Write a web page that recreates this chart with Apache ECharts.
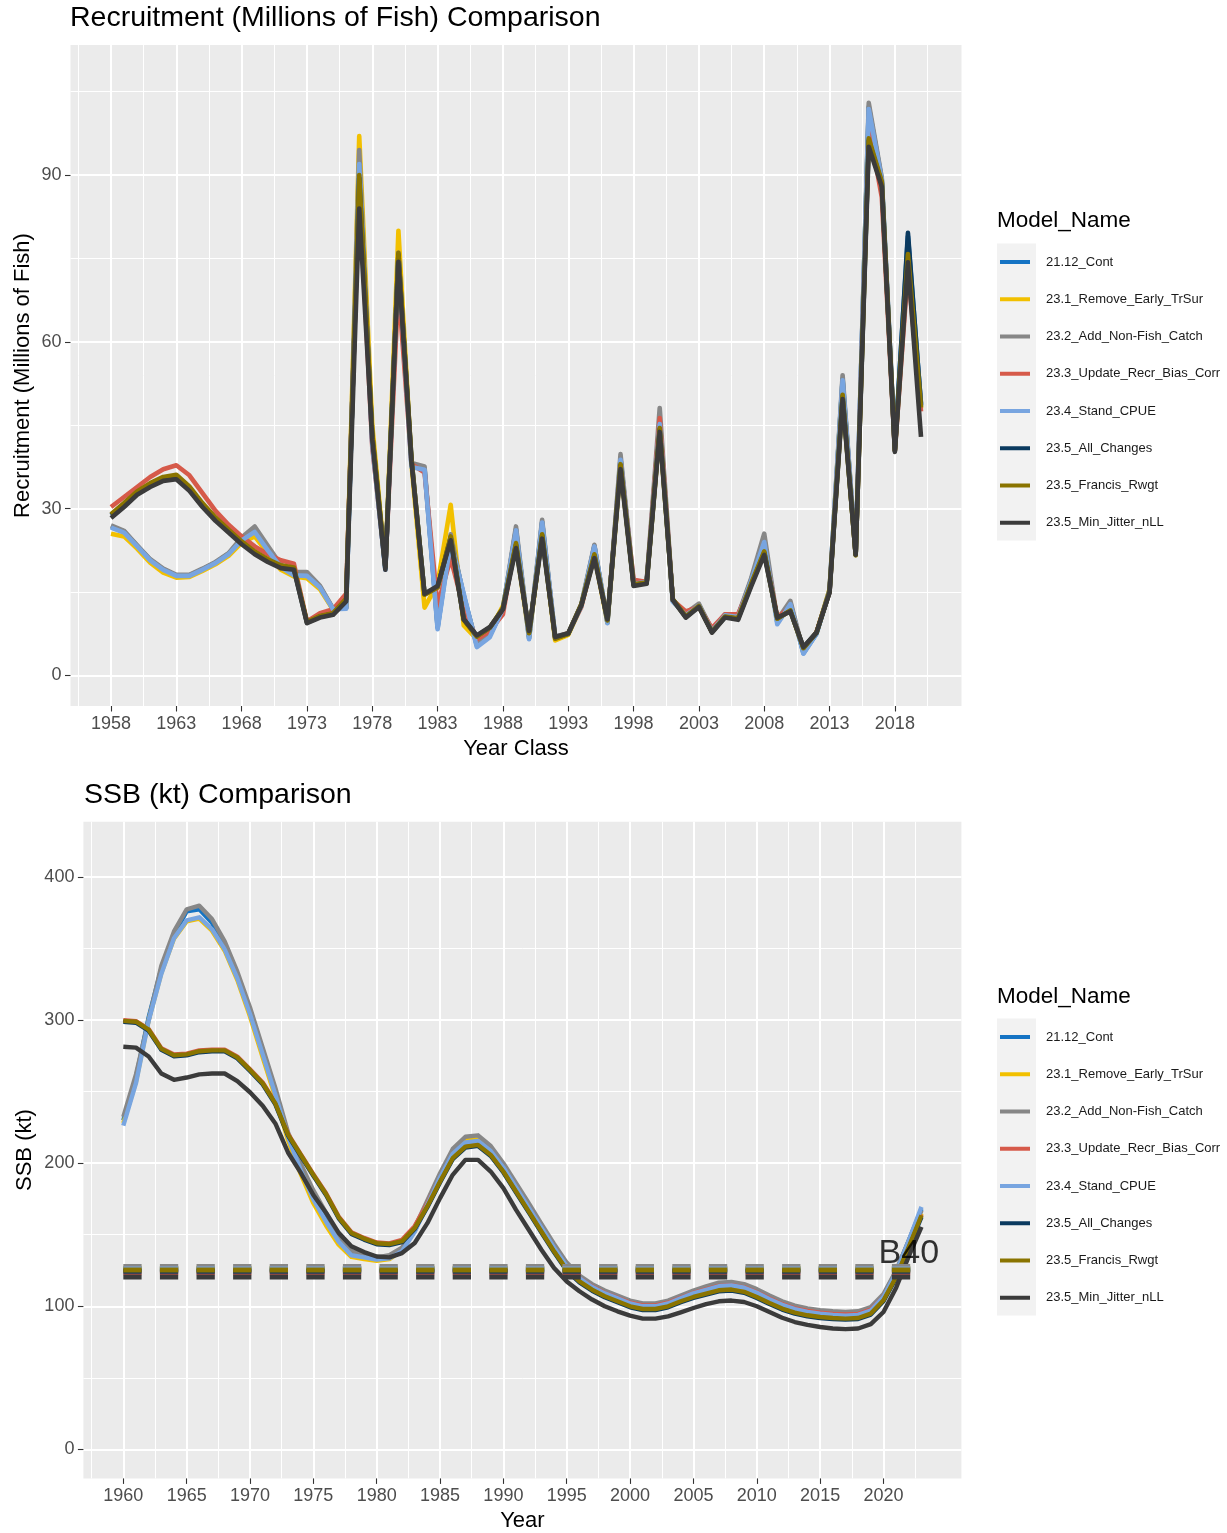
<!DOCTYPE html>
<html>
<head>
<meta charset="utf-8">
<script src="https://cdn.jsdelivr.net/npm/echarts@6/dist/echarts.min.js"></script>
<style>
  html, body { margin: 0; padding: 0; background: #ffffff; }
  #chart { width: 1227px; height: 1533px; }
</style>
</head>
<body>
<div id="chart"></div>
<script>
// ---------- data ----------
const modelNames = [
  '21.12_Cont',
  '23.1_Remove_Early_TrSur',
  '23.2_Add_Non-Fish_Catch',
  '23.3_Update_Recr_Bias_Corr',
  '23.4_Stand_CPUE',
  '23.5_All_Changes',
  '23.5_Francis_Rwgt',
  '23.5_Min_Jitter_nLL'
];

// Recruitment year classes 1958-2020
const recrYears = [];
for (let y = 1958; y <= 2020; y++) recrYears.push(y);

const recr_21_12 = [26.8,25.9,23.3,20.8,19.1,18.0,18.0,19.1,20.3,21.9,24.5,26.2,22.8,19.7,18.3,18.2,15.9,11.9,12.1,91.5,41.8,19.2,75.5,37.8,37.2,8.6,24.6,14.4,5.4,7.2,12.0,26.3,6.7,27.6,6.9,7.5,12.6,23.3,9.5,39.0,16.6,16.8,45.8,13.4,11.0,12.7,8.1,10.9,10.6,17.2,24.5,9.6,13.0,4.0,7.5,15.3,53.4,21.8,102.3,89.2,40.9,79.0,48.8];
const recr_23_1 = [25.5,25.0,22.8,20.3,18.5,17.6,17.7,18.8,20.0,21.5,23.9,25.0,22.0,19.0,17.8,17.5,15.5,11.8,12.5,97.0,45.0,19.5,80.0,38.0,12.2,16.5,30.7,9.0,6.5,8.0,12.5,23.5,7.0,25.5,6.3,7.3,12.5,21.5,9.5,37.5,16.3,16.6,44.0,13.5,10.6,12.4,7.8,10.8,10.6,17.0,22.5,10.1,11.8,4.7,7.6,15.5,50.0,21.7,97.5,88.5,40.6,76.0,48.0];
const recr_23_2 = [27.0,26.0,23.4,20.9,19.2,18.1,18.1,19.2,20.4,22.0,24.8,26.8,23.3,19.9,18.6,18.6,16.1,12.0,12.2,94.5,42.0,19.5,76.0,38.2,37.6,9.0,25.4,14.0,5.8,7.5,12.0,26.8,7.0,28.0,7.0,7.6,12.8,23.5,9.6,39.8,16.8,16.9,48.1,13.5,11.2,12.9,8.2,11.0,10.8,17.5,25.5,10.0,13.4,4.2,7.6,15.4,54.0,21.9,103.0,89.5,41.0,76.5,49.0];
const recr_23_3 = [30.3,32.1,33.9,35.7,37.1,37.8,36.0,32.8,29.6,27.1,25.0,23.2,21.8,20.7,20.1,9.7,11.2,11.9,14.7,88.5,41.0,19.5,70.0,38.0,36.5,12.6,21.1,12.0,6.5,8.0,11.0,24.5,7.2,26.0,6.8,7.6,12.3,22.0,9.8,38.5,17.2,16.8,46.3,13.5,11.5,12.3,8.5,11.0,11.0,16.5,23.0,10.5,12.2,4.6,7.8,15.0,51.5,21.8,99.0,86.0,40.5,73.0,47.5];
const recr_23_4 = [26.6,25.7,23.2,20.7,19.0,17.9,17.9,19.0,20.2,21.8,24.3,25.8,22.5,19.5,18.0,17.9,15.8,11.9,12.0,92.0,41.5,19.0,75.0,37.5,37.0,8.3,24.0,14.7,5.1,6.9,12.0,26.1,6.5,27.5,6.8,7.5,12.5,23.2,9.4,38.8,16.5,16.8,45.2,13.3,10.8,12.5,8.0,10.8,10.5,17.0,24.0,9.2,12.8,3.9,7.5,15.2,53.1,21.8,101.9,89.0,40.8,76.0,48.6];
const recr_23_5_all = [28.8,30.8,32.9,34.4,35.5,35.9,33.8,30.8,28.2,26.0,23.9,22.1,20.7,19.6,19.2,9.5,10.6,11.1,13.7,89.5,43.2,19.4,75.6,38.9,14.6,15.9,24.8,10.1,7.1,8.6,12.0,23.5,7.7,25.2,6.7,7.5,12.7,21.6,10.0,37.8,16.3,16.6,44.3,13.7,10.5,12.4,7.8,10.5,10.2,16.3,22.1,10.3,11.6,5.0,7.7,15.0,50.2,21.7,96.2,88.6,40.4,79.6,48.5];
const recr_23_5_francis = [29.0,31.0,33.1,34.6,35.7,36.1,34.0,31.0,28.4,26.2,24.1,22.3,20.9,19.8,19.4,9.6,10.7,11.2,13.8,90.0,43.5,19.5,76.0,39.0,14.5,15.8,25.0,10.0,7.0,8.6,12.1,23.8,7.6,25.4,6.6,7.5,12.8,21.8,9.9,38.0,16.4,16.7,44.5,13.7,10.6,12.5,7.8,10.6,10.3,16.5,22.3,10.2,11.7,4.9,7.7,15.1,50.5,21.6,96.6,88.8,40.5,75.8,48.2];
const recr_23_5_minjit = [28.3,30.3,32.5,33.9,35.0,35.3,33.2,30.3,27.8,25.7,23.6,21.8,20.4,19.3,19.0,9.4,10.4,10.9,13.3,84.0,42.4,19.0,74.4,38.5,14.7,16.1,24.3,10.1,7.2,8.7,11.9,22.9,8.0,24.6,6.9,7.6,12.6,21.1,10.1,37.1,16.1,16.5,43.8,13.6,10.4,12.3,7.7,10.4,10.0,16.0,21.7,10.4,11.5,5.1,7.7,14.9,49.7,21.7,95.1,87.9,40.2,74.3,42.9];

// Spawning stock biomass 1960-2023 (kt)
const ssbYears = [];
for (let y = 1960; y <= 2023; y++) ssbYears.push(y);

const ssb_21_12 = [230,260,302,336,360,376,377.5,368,353,332,307,279,250.5,220,197.5,178,162.5,147.5,137.5,135,133.5,134.5,139.5,153,172,191,207.5,215.5,216.5,209.5,198,184,170,156,142,129,120.5,114.5,110,106.5,103,101,101,103,106.5,110,112.5,115,115.5,114,110.5,106,102,99,97,95.8,95,94.5,95,98,107.5,124.5,146,168];
const ssb_23_1 = [228,257,300,333,357,369,371,362.5,348.5,328,302.5,274,246,216,192.5,172,156.5,143,134.5,133,131.8,133,139,153,172.5,191.5,208,216,216.5,209,197,182.5,168,154,140,127,118.5,112.5,108,104.5,101,99,99,101,104.5,108,110.5,113,113.5,112,108.5,104,100,97,95,93.8,93,92.5,93,96,105.5,122,143.5,165];
const ssb_23_2 = [232.4,262.1,300,338,362,377.5,380,370.7,355.1,333.9,308.9,280.8,252.7,221.5,199.7,181,165.4,149.8,138.8,135.7,134.2,135.7,141,155,174,193,210,218.5,219.5,212,200,186,172,157.5,143.5,130.5,121.5,115.5,111,107.5,104,102,102,104,107.5,111,114,116.5,117,115.5,112,107.5,103.5,100.5,98.5,97.3,96.5,96,96.5,99.5,108.5,125,146,167];
const ssb_23_3 = [300,299.3,293.8,280.4,276,276.6,278.8,279.4,279.4,274.5,265.7,256.4,242.3,220.5,206.4,192.4,179,162.7,151.8,147.8,144.6,144,146.5,156,172,189.5,206,214,215,208,196.5,182.5,168.5,154.5,140.5,127.5,119.5,113.8,109.3,106,102.5,100.6,100.6,102.5,106,109.3,111.8,114.2,114.8,113.2,109.8,105.5,101.5,98.6,96.7,95.5,94.7,94.3,94.7,97.7,106.5,122,143,164];
const ssb_23_4 = [226.2,255.9,299.5,332.3,357.3,369.7,371.9,363.5,349.5,329.2,304.2,276.1,248,218.4,195,174.7,159.1,145.1,135.7,134.2,132.6,133.5,138.5,152,171,190,206.5,214.5,215.5,208.5,197,183,169,155,141,128,119.5,113.5,109,105.5,102,100,100,102,105.5,109,111.5,114,114.5,113,109.5,105,101,98,96,94.8,94,93.5,94,97,106.5,123.5,146,169.5];
const ssb_23_5_all = [298.8,298.2,292.6,279.2,274.8,275.4,277.6,278.2,278.2,273.3,264.5,255.2,241.1,219.3,205.2,191.2,177.8,161.5,150.6,146.6,143.4,142.8,144.8,154,169.3,186.5,202.8,210.9,212.1,205.1,193.5,179.5,165.6,151.6,137.7,124.9,116.7,110.9,106.3,102.8,99.3,97.4,97.4,99.3,102.8,105.8,108.2,110.5,111,109.4,105.8,101.6,97.7,94.9,93,91.8,91.1,90.7,91.1,94.2,103.5,119.8,140.8,162.5];
const ssb_23_5_francis = [299.5,298.9,293.3,279.9,275.5,276.1,278.3,278.9,278.9,274,265.2,255.9,241.8,220,205.9,191.9,178.5,162.2,151.3,147.3,144.1,143.5,145.5,154.7,170,187.2,203.5,211.6,212.8,205.8,194.2,180.2,166.3,152.3,138.4,125.6,117.4,111.6,107,103.5,100,98.1,98.1,100,103.5,106.5,108.9,111.2,111.7,110.1,106.5,102.3,98.4,95.6,93.7,92.5,91.8,91.4,91.8,94.9,104.2,120.5,141.5,163.6];
const ssb_23_5_minjit = [281.4,280.8,274.6,262.7,258.3,259.9,262.1,262.7,262.7,257.4,249.6,240.2,227.8,207.5,193.4,177.8,165.4,151.3,142,137.9,134.8,134.2,137.2,144.2,158.1,175.6,191.9,202.3,202.3,194.2,182.6,167.4,153.5,139.5,126.7,117.4,110.5,104.7,100,96.5,93.5,91.4,91.4,93,95.8,98.8,101.5,103.5,104,103,100,96,92,89,87,85.5,84.5,84,84.5,87.5,96,113,135,155.5];

// B40 reference level for each model (kt)
const b40Values = [126.0, 126.5, 127.8, 123.5, 126.0, 124.5, 125.3, 120.4];
const b40Span = [1960, 2023];
const b40Label = 'B40';
const b40LabelPos = [2022, 137];

// Axis ticks
const recrXTicks = [1958, 1963, 1968, 1973, 1978, 1983, 1988, 1993, 1998, 2003, 2008, 2013, 2018];
const recrXMinor = [1955.5, 1960.5, 1965.5, 1970.5, 1975.5, 1980.5, 1985.5, 1990.5, 1995.5, 2000.5, 2005.5, 2010.5, 2015.5, 2020.5];
const recrYTicks = [0, 30, 60, 90];
const recrYMinor = [15, 45, 75, 105];
const ssbXTicks = [1960, 1965, 1970, 1975, 1980, 1985, 1990, 1995, 2000, 2005, 2010, 2015, 2020];
const ssbXMinor = [1957.5, 1962.5, 1967.5, 1972.5, 1977.5, 1982.5, 1987.5, 1992.5, 1997.5, 2002.5, 2007.5, 2012.5, 2017.5, 2022.5];
const ssbYTicks = [0, 100, 200, 300, 400];
const ssbYMinor = [50, 150, 250, 350];

const recrSeries = [recr_21_12, recr_23_1, recr_23_2, recr_23_3, recr_23_4, recr_23_5_all, recr_23_5_francis, recr_23_5_minjit];
const ssbSeries = [ssb_21_12, ssb_23_1, ssb_23_2, ssb_23_3, ssb_23_4, ssb_23_5_all, ssb_23_5_francis, ssb_23_5_minjit];

// ---------- styling ----------
const modelColors = ['#1574c4', '#f2c000', '#878787', '#d65a4a', '#78a5e0', '#0b3a5f', '#8a7400', '#3b3b3b'];
const FONT = '"Liberation Sans", Arial, Helvetica, sans-serif';
const PANEL_BG = '#ebebeb';
const KEY_BG = '#f2f2f2';
const TICK_TEXT = '#4d4d4d';

const chart = echarts.init(document.getElementById('chart'), null, { renderer: 'canvas' });

function pairs(xs, ys) { return xs.map((x, i) => [x, ys[i]]); }

function valueAxis(opts) {
  const base = {
    type: 'value',
    gridIndex: opts.grid,
    min: opts.min,
    max: opts.max,
    position: opts.position,
    scale: true,
    axisLine: { show: false, onZero: false },
    nameMoveOverlap: false,
    splitNumber: 5
  };
  if (opts.minor) {
    return Object.assign(base, {
      axisTick: { show: false, customValues: opts.values },
      axisLabel: { show: false, customValues: opts.values },
      splitLine: { show: true, lineStyle: { color: '#ffffff', width: 1 } },
      z: 0
    });
  }
  return Object.assign(base, {
    name: opts.name,
    nameLocation: 'middle',
    nameGap: opts.nameGap,
    nameTextStyle: { fontFamily: FONT, fontSize: 22, color: '#000000' },
    axisTick: { show: true, length: 5.5, lineStyle: { color: '#333333', width: 1.1 }, customValues: opts.values },
    axisLabel: {
      show: true, margin: 9, fontFamily: FONT, fontSize: 18, color: TICK_TEXT,
      customValues: opts.values,
      formatter: v => String(v)
    },
    splitLine: { show: true, lineStyle: { color: '#ffffff', width: 2 } }
  });
}

const recrX = { min: 1954.9, max: 2023.1 };
const recrY = { min: -5.5, max: 113.4 };
const ssbX = { min: 1956.85, max: 2026.15 };
const ssbY = { min: -20.3, max: 438.7 };

const series = [];
modelNames.forEach((name, i) => {
  series.push({
    type: 'line', name: name, xAxisIndex: 0, yAxisIndex: 0,
    data: pairs(recrYears, recrSeries[i]),
    color: modelColors[i], showSymbol: false, symbol: 'none', silent: true,
    lineStyle: { width: 4.6, color: modelColors[i], cap: 'butt', join: 'round' },
    animation: false, z: 2
  });
});
modelNames.forEach((name, i) => {
  series.push({
    type: 'line', name: name, xAxisIndex: 2, yAxisIndex: 2,
    data: pairs(ssbYears, ssbSeries[i]),
    color: modelColors[i], showSymbol: false, symbol: 'none', silent: true,
    lineStyle: { width: 4.4, color: modelColors[i], cap: 'butt', join: 'round' },
    animation: false, z: 2
  });
});
modelNames.forEach((name, i) => {
  series.push({
    type: 'line', name: name, xAxisIndex: 2, yAxisIndex: 2,
    data: b40Span.map(x => [x, b40Values[i]]),
    color: modelColors[i], showSymbol: false, symbol: 'none', silent: true,
    lineStyle: { width: 5, color: modelColors[i], type: [18.3, 18.3], cap: 'butt' },
    animation: false, z: 3
  });
});
series.push({
  type: 'scatter', name: b40Label, xAxisIndex: 2, yAxisIndex: 2,
  data: [b40LabelPos], symbolSize: 0, silent: true, animation: false, z: 5,
  label: { show: true, position: 'inside', formatter: b40Label, fontFamily: FONT, fontSize: 34, color: '#000000' }
});

function legendFor(top) {
  return {
    orient: 'vertical', left: 1000, top: top, padding: 0,
    itemWidth: 30, itemHeight: 4, itemGap: 21.25, icon: 'rect',
    selectedMode: false,
    itemStyle: { borderWidth: 0 },
    textStyle: { fontFamily: FONT, fontSize: 13, color: '#1a1a1a', lineHeight: 16, padding: [0, 0, 0, 11] },
    data: modelNames.slice()
  };
}

const option = {
  animation: false,
  backgroundColor: '#ffffff',
  title: [
    { text: 'Recruitment (Millions of Fish) Comparison', left: 70, top: 4, padding: 0,
      textStyle: { fontFamily: FONT, fontSize: 28.5, fontWeight: 'normal', color: '#000000' } },
    { text: 'SSB (kt) Comparison', left: 84, top: 781, padding: 0,
      textStyle: { fontFamily: FONT, fontSize: 28.5, fontWeight: 'normal', color: '#000000' } },
    { text: 'Model_Name', left: 997, top: 209, padding: 0,
      textStyle: { fontFamily: FONT, fontSize: 22.5, fontWeight: 'normal', color: '#000000' } },
    { text: 'Model_Name', left: 997, top: 985, padding: 0,
      textStyle: { fontFamily: FONT, fontSize: 22.5, fontWeight: 'normal', color: '#000000' } }
  ],
  grid: [
    { left: 70.5, top: 45, width: 891, height: 661, show: true, backgroundColor: PANEL_BG, borderWidth: 0, containLabel: false, outerBoundsMode: 'none' },
    { left: 83.4, top: 821.7, width: 878, height: 656.7, show: true, backgroundColor: PANEL_BG, borderWidth: 0, containLabel: false, outerBoundsMode: 'none' }
  ],
  xAxis: [
    valueAxis({ grid: 0, min: recrX.min, max: recrX.max, position: 'bottom', values: recrXTicks, name: 'Year Class', nameGap: 32 }),
    valueAxis({ grid: 0, min: recrX.min, max: recrX.max, position: 'top', values: recrXMinor, minor: true }),
    valueAxis({ grid: 1, min: ssbX.min, max: ssbX.max, position: 'bottom', values: ssbXTicks, name: 'Year', nameGap: 32 }),
    valueAxis({ grid: 1, min: ssbX.min, max: ssbX.max, position: 'top', values: ssbXMinor, minor: true })
  ],
  yAxis: [
    valueAxis({ grid: 0, min: recrY.min, max: recrY.max, position: 'left', values: recrYTicks, name: 'Recruitment (Millions of Fish)', nameGap: 37 }),
    valueAxis({ grid: 0, min: recrY.min, max: recrY.max, position: 'right', values: recrYMinor, minor: true }),
    valueAxis({ grid: 1, min: ssbY.min, max: ssbY.max, position: 'left', values: ssbYTicks, name: 'SSB (kt)', nameGap: 47 }),
    valueAxis({ grid: 1, min: ssbY.min, max: ssbY.max, position: 'right', values: ssbYMinor, minor: true })
  ],
  legend: [legendFor(254), legendFor(1029)],
  graphic: [
    { type: 'rect', left: 997, top: 243.5, z: -1, silent: true, shape: { width: 39, height: 297 }, style: { fill: KEY_BG } },
    { type: 'rect', left: 997, top: 1018.5, z: -1, silent: true, shape: { width: 39, height: 297 }, style: { fill: KEY_BG } }
  ],
  series: series
};

chart.setOption(option);
</script>
</body>
</html>
